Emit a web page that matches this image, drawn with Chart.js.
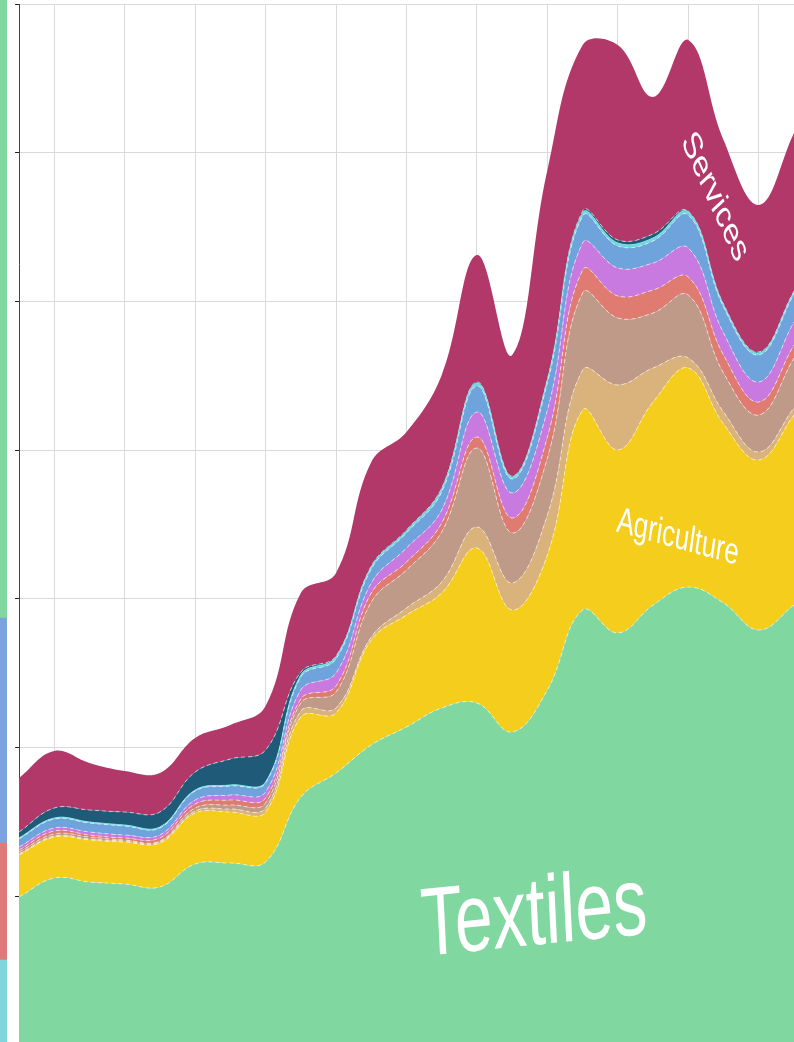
<!DOCTYPE html>
<html>
<head>
<meta charset="utf-8">
<script src="https://cdn.jsdelivr.net/npm/chart.js@4.4.1/dist/chart.umd.min.js"></script>
<style>
  html, body { margin: 0; padding: 0; background: #fff; overflow: hidden; width: 794px; height: 1042px; }
  #grafico { position: absolute; left: 0; top: 0; }
  #faixa { position: absolute; left: 0; top: 0; z-index: 2; }
</style>
</head>
<body>
<canvas id="grafico" width="800" height="1060"></canvas>
<canvas id="faixa" width="7" height="1042"></canvas>
<script>
// Anos (eixo x) - os rótulos ficam fora do recorte
const anos = ['1995','1996','1997','1998','1999','2000','2001','2002','2003','2004','2005','2006',
              '2007','2008','2009','2010','2011','2012','2013','2014','2015','2016','2017'];

// Séries empilhadas, de baixo para cima
const textiles    = [148,167,163,161,158,181,182,183,248,272,300,318,337,342,313,355,435,412,440,458,442,415,440];
const agriculture = [42,41,42,42,44,51,51,50,80,60,105,112,115,155,122,135,200,183,203,219,179,170,190];
const tan         = [1,1,1,1,1,2,3,4,6,5,3,7,11,21,27,40,40,65,34,10,12,8,7];
const brown       = [2,2,2,1,1,3,4,5,8,16,35,38,50,79,50,57,77,67,55,63,39,37,50];
const salmon      = [2,3,2,2,3,4,5,5,4,6,9,8,9,11,15,21,23,22,23,18,18,13,13];
const violet      = [3,3,3,3,3,4,5,6,9,13,10,14,13,25,25,27,27,28,27,29,22,20,23];
const blue        = [8,9,9,9,7,9,9,9,13,14,14,15,18,26,14,27,27,22,22,33,26,27,28];
const cyan        = [1,1,1,1,1,1,1,1,2,2,2,2,3,3,2,3,3,3,3,3,2,2,2];
const teal        = [6,10,12,13,15,18,26,32,3,1,1,1,1,1,1,1,2,3,4,1,1,1,1];
const services    = [54,57,47,41,39,34,34,44,79,83,104,98,113,127,121,209,166,195,137,171,164,147,158];

// Ticks do eixo y (sem texto visível)
const yTicks = [0, 148.7, 297.4, 446.1, 594.9, 743.6, 892.3, 1041];

// Faixa à esquerda (outro gráfico cortado), de baixo para cima
const faixaValores = [82, 117, 225, 618];
const faixaCores = ['#80d4dc', '#e07a78', '#7ba3de', '#80d8a0'];

// Rótulos dentro das áreas
const rotulos = [
  { texto: 'Textiles',    xi: 14.62, yv: 127, angulo: -4,  tamanho: 97 },
  { texto: 'Agriculture', xi: 18.7,  yv: 507, angulo: 11,  tamanho: 37 },
  { texto: 'Services',    xi: 19.75, yv: 848, angulo: 57,  tamanho: 38 }
];

function serie(label, data, cor, borda, fill) {
  return {
    label: label,
    data: data,
    backgroundColor: cor,
    borderColor: borda || 'rgba(255,255,255,0.6)',
    borderWidth: 1,
    borderDash: borda ? [] : [4, 3],
    fill: fill,
    pointRadius: 0,
    tension: 0.4
  };
}

var datasets = [
  serie('Textiles', textiles, '#80d8a0', null, 'origin'),
  serie('Agriculture', agriculture, '#f5cd1c', null, '-1'),
  serie('Tan', tan, '#d9b27c', null, '-1'),
  serie('Brown', brown, '#c09a88', null, '-1'),
  serie('Salmon', salmon, '#e07b72', null, '-1'),
  serie('Violet', violet, '#c97ae0', null, '-1'),
  serie('Blue', blue, '#6ea3dc', null, '-1'),
  serie('Cyan', cyan, '#6fd6dc', '#7fe0e6', '-1'),
  serie('Teal', teal, '#1f5b78', null, '-1'),
  serie('Services', services, '#b2386a', '#b2386a', '-1')
];
datasets[9].borderWidth = 0;

// Texto rodado e comprimido na horizontal como no original
const pluginRotulos = {
  id: 'rotulos',
  afterDatasetsDraw(chart) {
    const ctx = chart.ctx;
    const x = chart.scales.x, y = chart.scales.y;
    rotulos.forEach(r => {
      const px = x.left + (x.right - x.left) * r.xi / (anos.length - 1);
      const py = y.getPixelForValue(r.yv);
      ctx.save();
      ctx.translate(px, py);
      ctx.scale(0.7, 1);
      ctx.rotate(r.angulo * Math.PI / 180);
      ctx.font = r.tamanho + 'px "Liberation Sans", Arial, sans-serif';
      ctx.fillStyle = '#ffffff';
      ctx.textAlign = 'center';
      ctx.textBaseline = 'middle';
      ctx.fillText(r.texto, 0, 0);
      ctx.restore();
    });
  }
};

new Chart(document.getElementById('grafico'), {
  type: 'line',
  data: { labels: anos, datasets: datasets },
  options: {
    responsive: false,
    animation: false,
    devicePixelRatio: 1,
    layout: { padding: { left: 15, top: 4, right: 6, bottom: 15 } },
    plugins: { legend: { display: false }, tooltip: { enabled: false } },
    scales: {
      x: {
        offset: false,
        ticks: { display: false },
        border: { display: false },
        grid: {
          drawTicks: false,
          color: ctx => ctx.index % 2 === 1 ? '#d9d9d9' : 'rgba(0,0,0,0)',
          lineWidth: 1
        }
      },
      y: {
        stacked: true,
        min: 0,
        max: 1041,
        afterBuildTicks: s => { s.ticks = yTicks.map(v => ({ value: v })); },
        ticks: { display: false },
        border: { display: true, color: '#444', width: 1 },
        grid: { color: '#d9d9d9', tickColor: '#222', tickLength: 4, drawTicks: true }
      }
    }
  },
  plugins: [pluginRotulos]
});

// Faixa colorida à esquerda
new Chart(document.getElementById('faixa'), {
  type: 'bar',
  data: {
    labels: [''],
    datasets: faixaValores.map((v, i) => ({
      data: [v],
      backgroundColor: faixaCores[i],
      borderWidth: 0,
      barPercentage: 1,
      categoryPercentage: 1
    }))
  },
  options: {
    responsive: false,
    animation: false,
    devicePixelRatio: 1,
    layout: { padding: 0 },
    plugins: { legend: { display: false }, tooltip: { enabled: false } },
    scales: {
      x: { display: false, stacked: true },
      y: { display: false, stacked: true, min: 0, max: 1042 }
    }
  }
});
</script>
</body>
</html>
